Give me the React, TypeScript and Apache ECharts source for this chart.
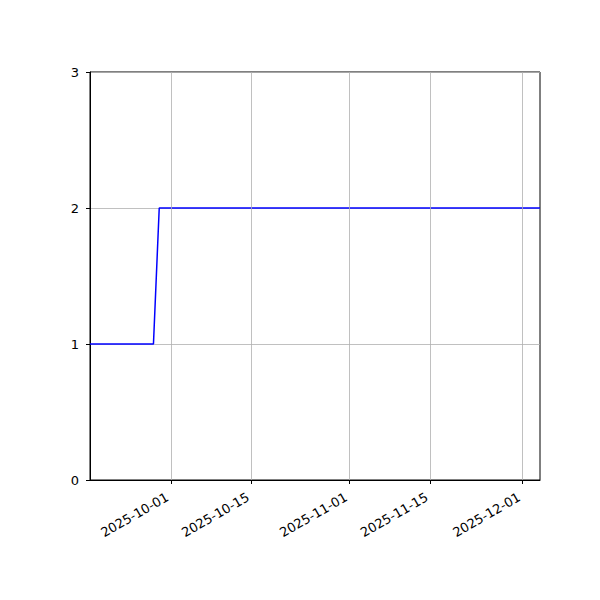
import React, { useEffect, useRef } from "react";
import * as echarts from "echarts";

const d = (s: string) => Date.parse(s + "T00:00:00Z");

const xStart = "2025-09-17";
const xEnd = "2025-12-04";
const dates = ["2025-09-17", "2025-09-28", "2025-09-29", "2025-12-04"];
const values = [1, 1, 2, 2];
const xTicks = ["2025-10-01", "2025-10-15", "2025-11-01", "2025-11-15", "2025-12-01"];
const yTicks = [0, 1, 2, 3];

const fmt = (v: number) => {
  const dt = new Date(v);
  const p = (n: number) => String(n).padStart(2, "0");
  return `${dt.getUTCFullYear()}-${p(dt.getUTCMonth() + 1)}-${p(dt.getUTCDate())}`;
};

export default function App() {
  const ref = useRef<HTMLDivElement>(null);
  useEffect(() => {
    if (!ref.current) return;
    const chart = echarts.init(ref.current, null, { renderer: "svg" });
    const tickVals = xTicks.map(d);
    chart.setOption({
      animation: false,
      textStyle: { fontFamily: "DejaVu Sans" },
      grid: {
        left: 90,
        right: 60,
        top: 72,
        bottom: 120,
        show: true,
        borderColor: "#000",
        borderWidth: 1,
        backgroundColor: "transparent",
      },
      xAxis: {
        type: "value",
        min: d(xStart),
        max: d(xEnd),
        axisLine: { show: true, lineStyle: { color: "#000", width: 1 } },
        axisTick: {
          show: true,
          customValues: tickVals,
          length: 4,
          inside: false,
          lineStyle: { color: "#000", width: 1 },
        },
        axisLabel: {
          customValues: tickVals,
          formatter: (v: number) => fmt(v),
          rotate: 30,
          margin: 14,
          padding: [0, 4, 0, 0],
          fontSize: 13,
          color: "#000",
          fontFamily: "DejaVu Sans",
        },
        splitLine: { show: false },
      },
      yAxis: {
        type: "value",
        min: yTicks[0],
        max: yTicks[yTicks.length - 1],
        interval: 1,
        axisLine: { show: true, lineStyle: { color: "#000", width: 1 } },
        axisTick: { show: true, length: 4, lineStyle: { color: "#000", width: 1 } },
        axisLabel: { margin: 11, fontSize: 13, color: "#000", fontFamily: "DejaVu Sans" },
        splitLine: { show: true, lineStyle: { color: "#b0b0b0", width: 0.8 } },
      },
      series: [
        {
          type: "line",
          data: [],
          z: 1,
          silent: true,
          markLine: {
            silent: true,
            symbol: "none",
            label: { show: false },
            lineStyle: { color: "#b0b0b0", width: 0.8, type: "solid" },
            data: tickVals.map((t) => ({ xAxis: t })),
          },
        },
        {
          type: "line",
          z: 3,
          data: dates.map((s, i) => [d(s), values[i]]),
          showSymbol: false,
          symbol: "none",
          lineStyle: { color: "#0000ff", width: 1.5 },
          itemStyle: { color: "#0000ff" },
        },
      ],
    });
    return () => chart.dispose();
  }, []);
  return <div ref={ref} style={{ width: 600, height: 600, position: "absolute", left: 0, top: 0 }} />;
}
